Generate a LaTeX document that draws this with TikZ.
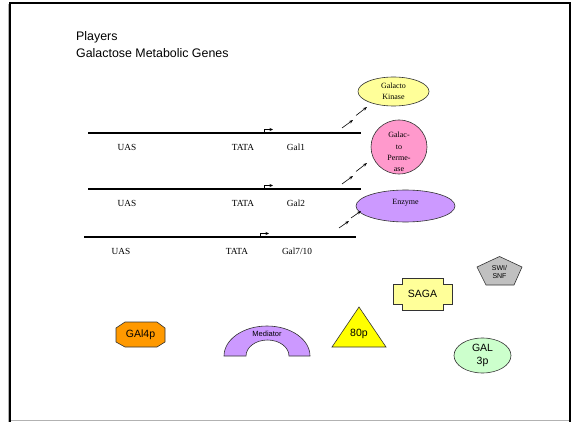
\documentclass[tikz,border=0pt]{standalone}
\usepackage{fontspec}
\setmainfont{Liberation Serif}
\newfontfamily\arialf{Liberation Sans}
\usetikzlibrary{shapes.geometric,arrows.meta}
\definecolor{lyellow}{HTML}{FFFF99}
\definecolor{lpink}{HTML}{FF99CC}
\definecolor{lviolet}{HTML}{CC99FF}
\definecolor{orng}{HTML}{FF9900}
\definecolor{yell}{HTML}{FFFF00}
\definecolor{lgray}{HTML}{C0C0C0}
\definecolor{lgreen}{HTML}{CCFFCC}
\tikzset{
  gene/.style={line width=1.5pt},
  lbl/.style={font=\fontsize{9.3}{10}\selectfont, inner sep=0pt, anchor=base},
  prom/.style={line width=0.5pt,-{Stealth[length=3.5pt,width=3pt]}},
  prod/.style={line width=0.6pt,-{Stealth[length=4pt,width=3pt]}},
  shp/.style={draw=black!80, line width=0.6pt},
  prot/.style={ellipse, shp, inner sep=0pt, align=center},
  stxt/.style={font=\arialf\fontsize{10.5}{12}\selectfont, inner sep=0pt, align=center}
}
\begin{document}
\begin{tikzpicture}[x=1pt,y=-1pt]
\useasboundingbox (0,0) rectangle (575,422);
% frame
\draw[black!30, line width=1pt] (8,4) -- (8,422);
\draw[black!30, line width=1.2pt] (10,420.5) -- (570,420.5);
\draw[line width=2.2pt] (10,422) -- (10,3) -- (570,3) -- (570,422);
% title
\node[font=\arialf\fontsize{12.4}{17}\selectfont, anchor=north west, align=left, inner sep=0pt] (title) at (76,31.5) {Players\\Galactose Metabolic Genes};
% gene 1
\coordinate (g1a) at (88,133); \coordinate (g1b) at (361,133);
\draw[gene] (g1a) -- (g1b);
\node[lbl] (uas1) at (127,150.5) {UAS};
\node[lbl] (tata1) at (243,150.5) {TATA};
\node[lbl] (gal1) at (296,150.5) {Gal1};
\coordinate (p1) at (264,133);
\draw[prom] (p1) -- ++(0,-3.5) -- ++(9,0);
% gene 2
\coordinate (g2a) at (88,189); \coordinate (g2b) at (361,189);
\draw[gene] (g2a) -- (g2b);
\node[lbl] (uas2) at (127,206.5) {UAS};
\node[lbl] (tata2) at (243,206.5) {TATA};
\node[lbl] (gal2) at (296,206.5) {Gal2};
\coordinate (p2) at (264,189);
\draw[prom] (p2) -- ++(0,-3.5) -- ++(9,0);
% gene 3
\coordinate (g3a) at (84,237); \coordinate (g3b) at (356,237);
\draw[gene] (g3a) -- (g3b);
\node[lbl] (uas3) at (121,254) {UAS};
\node[lbl] (tata3) at (237,254) {TATA};
\node[lbl] (gal3) at (297,254) {Gal7/10};
\coordinate (p3) at (260,237);
\draw[prom] (p3) -- ++(0,-3.5) -- ++(9,0);
% products
\node[prot, fill=lyellow, minimum width=71pt, minimum height=29pt, font=\fontsize{8}{11}\selectfont] (kin) at (393.5,91.5) {Galacto\\Kinase};
\node[ellipse, shp, fill=lpink, minimum width=56pt, minimum height=54pt] (perm) at (399,147) {};
\node[font=\fontsize{8}{11.3}\selectfont, align=center, inner sep=0pt] (permt) at (399,152) {Galac-\\to\\Perme-\\ase};
\node[prot, fill=lviolet, minimum width=99pt, minimum height=32pt] (enz) at (405.5,206) {};
\node[font=\fontsize{8}{10}\selectfont, inner sep=0pt] (enzt) at (405.5,203) {Enzyme};
% arrows gene -> product
\coordinate (a1) at (342,128); \coordinate (a2) at (353,120);
\coordinate (a3) at (356,115.5); \coordinate (a4) at (367,107);
\draw[prod] (a1) -- (a2); \draw[prod] (a3) -- (a4);
\coordinate (b1) at (342,184); \coordinate (b2) at (353,176);
\coordinate (b3) at (356,171.5); \coordinate (b4) at (367,163);
\draw[prod] (b1) -- (b2); \draw[prod] (b3) -- (b4);
\coordinate (c1) at (339,228); \coordinate (c2) at (349,221);
\coordinate (c3) at (351,218); \coordinate (c4) at (361,211);
\draw[prod] (c1) -- (c2); \draw[prod] (c3) -- (c4);
% GAl4p octagon
\draw[shp, fill=orng] (125,322) -- (157,322) -- (165,328) -- (165,342) -- (157,347) -- (125,347) -- (116,342) -- (116,328) -- cycle;
\node[stxt] (gal4) at (140.5,334.5) {GAl4p};
% Mediator arch
\draw[shp, fill=lviolet] (224,356) arc[start angle=180, end angle=0, x radius=43pt, y radius=30pt] -- (289,356) arc[start angle=0, end angle=180, x radius=21.5pt, y radius=16pt] -- cycle;
\node[font=\arialf\fontsize{7.5}{9}\selectfont, inner sep=0pt] (med) at (267,334) {Mediator};
% 80p triangle
\draw[shp, fill=yell] (332,347) -- (386,347) -- (359,307) -- cycle;
\node[stxt] (p80) at (359,334) {80p};
% SAGA
\draw[shp, fill=lyellow] (402,278) -- (443,278) -- (443,284) -- (452,284) -- (452,304) -- (443,304) -- (443,310) -- (402,310) -- (402,304) -- (393,304) -- (393,284) -- (402,284) -- cycle;
\node[stxt] (saga) at (422.5,294) {SAGA};
% SWI/SNF pentagon
\draw[shp, fill=lgray] (499.5,256.5) -- (522,267) -- (514,285) -- (486,285) -- (477,267) -- cycle;
\node[font=\arialf\fontsize{7}{8}\selectfont, align=center, inner sep=0pt] (swi) at (499.5,272) {SWI/\\SNF};
% GAL 3p
\node[prot, fill=lgreen, minimum width=57pt, minimum height=35pt, font=\arialf\fontsize{10.5}{13}\selectfont] (gal3p) at (482.5,355.5) {GAL\\3p};
\end{tikzpicture}
\end{document}
